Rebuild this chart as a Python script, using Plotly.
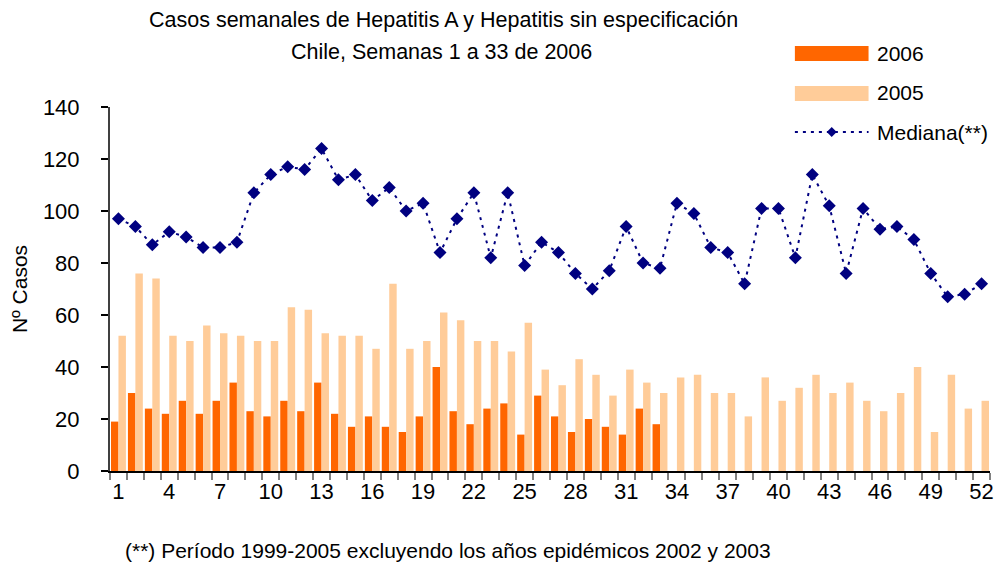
import numpy as np
import plotly.graph_objects as go

# weekly cases
weeks = list(range(1, 53))
casos_2006 = [19, 30, 24, 22, 27, 22, 27, 34, 23, 21, 27, 23, 34,
              22, 17, 21, 17, 15, 21, 40, 23, 18, 24, 26, 14, 29,
              21, 15, 20, 17, 14, 24, 18]
casos_2005 = [52, 76, 74, 52, 50, 56, 53, 52, 50, 50, 63, 62, 53,
              52, 52, 47, 72, 47, 50, 61, 58, 50, 50, 46, 57, 39,
              33, 43, 37, 29, 39, 34, 30, 36, 37, 30, 30, 21, 36,
              27, 32, 37, 30, 34, 27, 23, 30, 40, 15, 37, 24, 27]
mediana = [97, 94, 87, 92, 90, 86, 86, 88, 107, 114, 117, 116, 124,
           112, 114, 104, 109, 100, 103, 84, 97, 107, 82, 107, 79, 88,
           84, 76, 70, 77, 94, 80, 78, 103, 99, 86, 84, 72, 101,
           101, 82, 114, 102, 76, 101, 93, 94, 89, 76, 67, 68, 72]
x_ticks = list(range(1, 53, 3))
y_ticks = list(range(0, 141, 20))

FONT = "Liberation Sans, Arial, sans-serif"
C2006 = "#FF6600"
C2005 = "#FFCC99"
CMED = "#000080"

W, H = 1000, 564
L, R, T, B = 110, 6, 107, 93


def px_x(x):
    return (x - L) / (W - L - R)


def px_y(y):
    return (H - B - y) / (H - B - T)


def label(text, x, y, size, xanchor="center"):
    return dict(text=text, xref="paper", yref="paper", x=px_x(x), y=px_y(y),
                xanchor=xanchor, yanchor="middle", showarrow=False,
                font=dict(size=size, color="black"))


fig = go.Figure()

fig.add_trace(go.Bar(x=weeks[:len(casos_2006)], y=casos_2006, name="2006",
                     marker=dict(color=C2006, line=dict(width=0))))
fig.add_trace(go.Bar(x=weeks, y=casos_2005, name="2005",
                     marker=dict(color=C2005, line=dict(width=0))))
fig.add_trace(go.Scatter(
    x=weeks, y=mediana, name="Mediana(**)", mode="lines+markers",
    line=dict(color=CMED, width=2, dash="3px,5px"),
    marker=dict(symbol="diamond", size=10, color=CMED),
))

# hand-made legend (wide swatches like the original)
shapes = [
    dict(type="rect", xref="paper", yref="paper",
         x0=px_x(798), x1=px_x(872), y0=px_y(61), y1=px_y(46),
         fillcolor=C2006, line=dict(width=0)),
    dict(type="rect", xref="paper", yref="paper",
         x0=px_x(798), x1=px_x(872), y0=px_y(101), y1=px_y(86),
         fillcolor=C2005, line=dict(width=0)),
    dict(type="line", xref="paper", yref="paper",
         x0=px_x(798), x1=px_x(872), y0=px_y(132), y1=px_y(132),
         line=dict(color=CMED, width=2, dash="3px,5px")),
    dict(type="path", xref="paper", yref="paper",
         path="M {} {} L {} {} L {} {} L {} {} Z".format(
             px_x(835), px_y(127), px_x(840), px_y(132),
             px_x(835), px_y(137), px_x(830), px_y(132)),
         fillcolor=CMED, line=dict(width=0)),
]

annotations = [
    label("Casos semanales de Hepatitis A y Hepatitis sin especificación", 445, 20, 21.5),
    label("Chile, Semanas 1 a 33 de 2006", 443, 52, 21.5),
    label("(**) Período 1999-2005 excluyendo los años epidémicos 2002 y 2003", 450, 550, 21),
    label("2006", 878, 53, 21, "left"),
    label("2005", 878, 93, 21, "left"),
    label("Mediana(**)", 878, 132, 21, "left"),
]

fig.update_layout(
    width=W, height=H,
    margin=dict(l=L, r=R, t=T, b=B),
    paper_bgcolor="white", plot_bgcolor="white",
    font=dict(family=FONT, color="black"),
    barmode="group", bargap=0.12, bargroupgap=0,
    showlegend=False,
    shapes=shapes,
    annotations=annotations,
    xaxis=dict(
        range=[0.5, 52.5],
        tickmode="array", tickvals=x_ticks, ticktext=[str(v) for v in x_ticks],
        ticks="",
        tickfont=dict(size=22),
        showline=True, linecolor="black", linewidth=2,
        showgrid=False, zeroline=False,
        minor=dict(tickmode="array", tickvals=list(np.arange(0.5, 53, 1.0)),
                   ticks="outside", ticklen=7, tickcolor="#808080",
                   tickwidth=2, showgrid=False),
    ),
    yaxis=dict(
        range=[0, 140], tickmode="array", tickvals=y_ticks,
        ticks="outside", ticklen=7, tickcolor="black", tickwidth=1.5,
        tickfont=dict(size=22), ticklabelstandoff=17,
        showline=True, linecolor="#404040", linewidth=2,
        showgrid=False, zeroline=False,
        title=dict(text="Nº Casos", font=dict(size=21), standoff=10),
    ),
)

fig.write_html("out.html", config={"displayModeBar": False},
               post_script="document.body.style.margin='0px';")
